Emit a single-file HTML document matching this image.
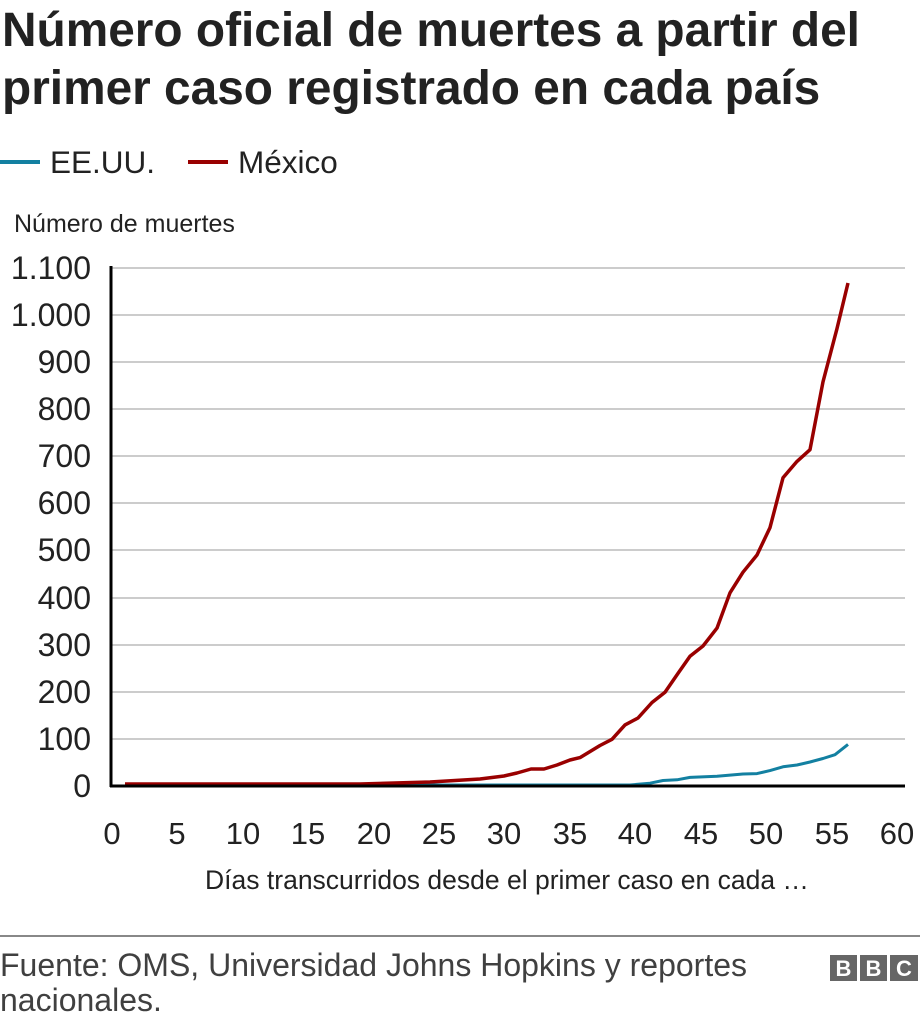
<!DOCTYPE html>
<html><head><meta charset="utf-8"><style>
body{margin:0;width:920px;height:1022px;background:#fff;font-family:"Liberation Sans",Arial,sans-serif;overflow:hidden;position:relative}
</style></head><body>
<svg width="920" height="1022" style="position:absolute;left:0;top:0" font-family="Liberation Sans, Arial, sans-serif">
<text x="2" y="46" font-size="47.8" font-weight="bold" fill="#222">Número oficial de muertes a partir del</text>
<text x="2" y="104" font-size="47.8" font-weight="bold" fill="#222">primer caso registrado en cada país</text>
<line x1="0" y1="162" x2="40" y2="162" stroke="#1380a1" stroke-width="4"/>
<text x="50" y="173" font-size="31.5" fill="#222">EE.UU.</text>
<line x1="188" y1="162" x2="228" y2="162" stroke="#990000" stroke-width="4"/>
<text x="238" y="173" font-size="31.5" fill="#222">México</text>
<text x="14" y="232" font-size="25" fill="#222">Número de muertes</text>
<g stroke="#cccccc" stroke-width="2">
<line x1="112" x2="905" y1="268" y2="268"/><line x1="112" x2="905" y1="315" y2="315"/>
<line x1="112" x2="905" y1="362" y2="362"/><line x1="112" x2="905" y1="409" y2="409"/>
<line x1="112" x2="905" y1="456" y2="456"/><line x1="112" x2="905" y1="503" y2="503"/>
<line x1="112" x2="905" y1="550" y2="550"/><line x1="112" x2="905" y1="598" y2="598"/>
<line x1="112" x2="905" y1="645" y2="645"/><line x1="112" x2="905" y1="692" y2="692"/>
<line x1="112" x2="905" y1="739" y2="739"/>
</g>
<g font-size="32" fill="#222" text-anchor="end">
<text x="91" y="279">1.100</text><text x="91" y="326">1.000</text><text x="91" y="373">900</text>
<text x="91" y="420">800</text><text x="91" y="467">700</text><text x="91" y="514">600</text>
<text x="91" y="561">500</text><text x="91" y="609">400</text><text x="91" y="656">300</text>
<text x="91" y="703">200</text><text x="91" y="750">100</text><text x="91" y="797">0</text>
</g>
<g font-size="31" fill="#222" text-anchor="middle">
<text x="112" y="844">0</text><text x="177" y="844">5</text><text x="243" y="844">10</text>
<text x="308" y="844">15</text><text x="374" y="844">20</text><text x="439" y="844">25</text>
<text x="504" y="844">30</text><text x="570" y="844">35</text><text x="635" y="844">40</text>
<text x="701" y="844">45</text><text x="766" y="844">50</text><text x="832" y="844">55</text>
<text x="897" y="844">60</text>
</g>
<text x="507" y="889" font-size="26.5" fill="#222" text-anchor="middle">Días transcurridos desde el primer caso en cada …</text>
<line x1="111" y1="266" x2="111" y2="787" stroke="#000" stroke-width="3"/>
<polyline fill="none" stroke="#1380a1" stroke-width="3" stroke-linejoin="round" points="125,785 630,785 650,783.2 663,780.5 677,779.8 690,777.4 717,776.3 743,774 757,773.6 770,770.6 783,766.8 797,765 810,762 823,758.5 835,754.7 848,744.4"/>
<polyline fill="none" stroke="#990000" stroke-width="3.5" stroke-linejoin="round" points="125,784 360,784 430,782 480,779 504,776 517,773 531,769 544,769 557,765 570,760 580,757.6 600,745.5 612,739.3 625,724.9 638,718 652,702.5 665,692.3 678,673.4 690,656.3 703,646 717,628.1 730,592.8 743,572.2 757,555 770,527.6 783,477.8 797,461.4 810,449.7 823,381.8 837,328.6 848,283"/>
<line x1="110" y1="786" x2="905" y2="786" stroke="#000" stroke-width="3"/>
<line x1="0" y1="936" x2="920" y2="936" stroke="#888" stroke-width="2"/>
<text x="0" y="976" font-size="32" fill="#404040">Fuente: OMS, Universidad Johns Hopkins y reportes</text>
<text x="0" y="1011" font-size="32" fill="#404040">nacionales.</text>
<g fill="#666"><rect x="830" y="955" width="27" height="26"/><rect x="860" y="955" width="27" height="26"/><rect x="890" y="955" width="28" height="26"/></g>
<g font-size="22" font-weight="bold" fill="#fff" text-anchor="middle"><text x="843.5" y="976">B</text><text x="873.5" y="976">B</text><text x="904" y="976">C</text></g>
</svg>
</body></html>
